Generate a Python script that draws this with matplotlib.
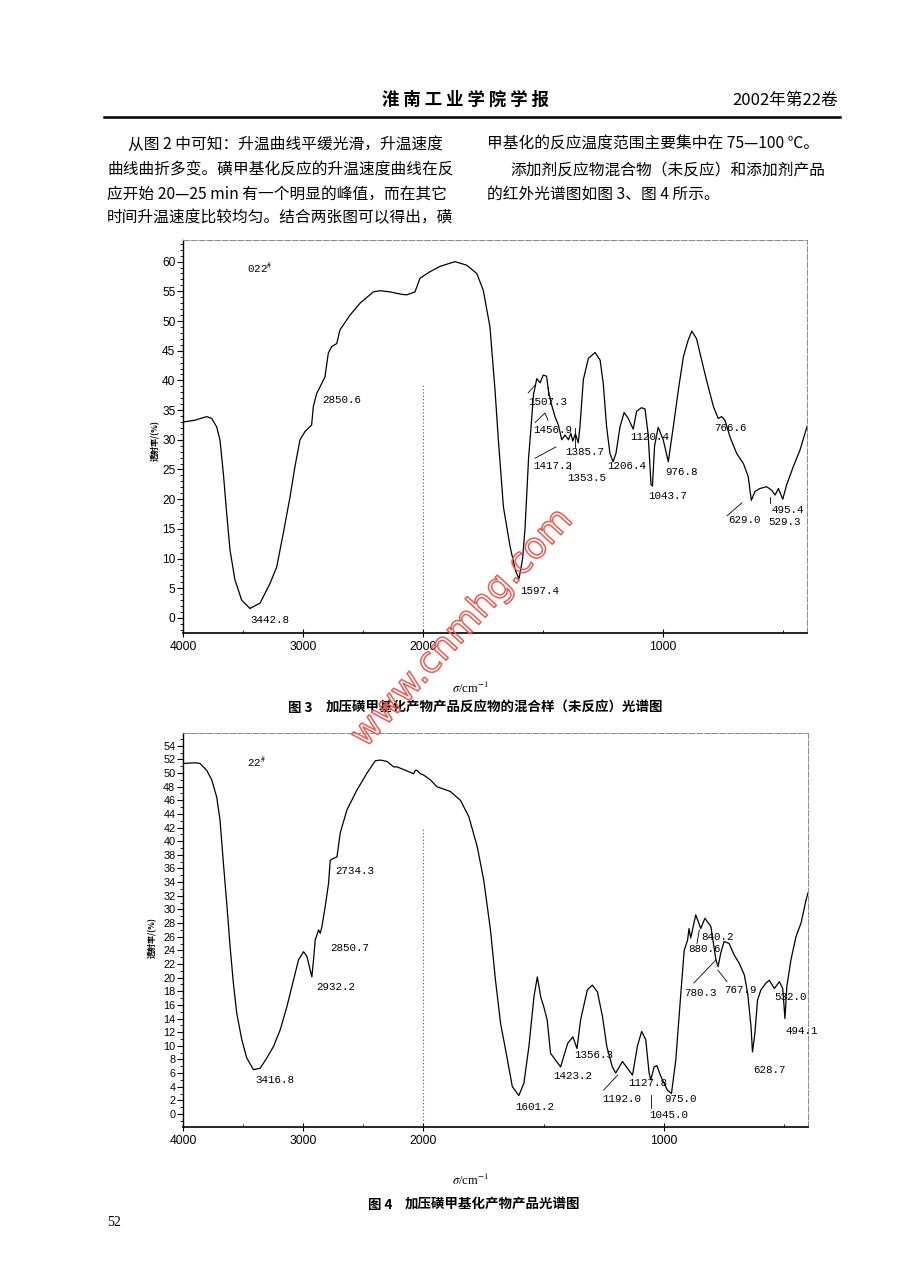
import numpy as np
import matplotlib
matplotlib.use('Agg')
import matplotlib.pyplot as plt
from matplotlib import patheffects
from matplotlib.lines import Line2D
from matplotlib.ticker import MultipleLocator, FixedLocator

plt.rcParams['font.family'] = ['Noto Sans CJK SC', 'DejaVu Sans']
plt.rcParams['mathtext.fontset'] = 'stix'

W, H = 904, 1262

# ---- fig 3 : mixture (unreacted), wavenumber / transmittance (%)
wn3 = [4000, 3900, 3803, 3761, 3720, 3692, 3664, 3636, 3608, 3567, 3511, 3442,
       3358, 3275, 3219, 3164, 3108, 3067, 3025, 2983, 2928, 2914, 2886, 2858,
       2817, 2789, 2761, 2719, 2692, 2608, 2525, 2414, 2358, 2275, 2180, 2136,
       2067, 2025, 1971, 1929, 1867, 1818, 1776, 1749, 1721, 1700, 1686, 1665,
       1637, 1615, 1600, 1585, 1575, 1560, 1550, 1540, 1526, 1512, 1499, 1485,
       1478, 1465, 1450, 1436, 1422, 1408, 1394, 1384, 1376, 1365, 1353, 1346,
       1332, 1311, 1283, 1262, 1249, 1235, 1221, 1208, 1196, 1179, 1162, 1145,
       1124, 1110, 1090, 1075, 1062, 1050, 1044, 1035, 1020, 999, 978, 957,
       936, 915, 895, 880, 860, 846, 819, 790, 770, 756, 742, 721, 693, 665,
       645, 632, 617, 596, 568, 547, 533, 519, 501, 485, 457, 429, 400]
t3 = [33.0, 33.3, 33.9, 33.6, 32.2, 30.0, 24.4, 17.6, 11.4, 6.4, 3.0, 1.6,
      2.5, 5.8, 8.6, 14.3, 20.4, 25.5, 30.0, 31.4, 32.5, 35.6, 37.8, 38.9,
      40.6, 44.6, 45.7, 46.2, 48.5, 51.0, 53.0, 54.9, 55.1, 54.9, 54.5, 54.4,
      54.9, 57.2, 58.3, 59.2, 60.0, 59.4, 58.0, 55.2, 49.0, 38.4, 30.0, 18.7,
      12.0, 8.0, 6.6, 10.0, 15.0, 27.0, 32.0, 37.5, 40.3, 39.6, 40.9, 40.7,
      38.4, 36.0, 33.9, 32.5, 30.0, 30.8, 30.0, 31.1, 29.8, 31.0, 29.5, 32.2,
      40.1, 43.7, 44.7, 43.4, 39.5, 32.2, 27.7, 26.3, 27.7, 32.2, 34.6, 33.6,
      31.8, 34.8, 35.4, 35.2, 31.0, 22.5, 22.2, 29.0, 32.1, 30.0, 26.3, 32.2,
      38.4, 44.0, 46.8, 48.3, 47.0, 44.6, 40.1, 35.6, 33.6, 33.9, 33.3, 30.5,
      27.7, 26.0, 23.8, 19.8, 21.3, 21.8, 22.1, 21.5, 20.7, 21.8, 20.0, 22.4,
      25.5, 28.3, 32.2]

# ---- fig 4 : product
wn4 = [4000, 3900, 3858, 3803, 3761, 3720, 3692, 3664, 3636, 3608, 3581, 3553,
       3511, 3469, 3414, 3358, 3303, 3247, 3192, 3136, 3081, 3039, 2997, 2969,
       2942, 2928, 2914, 2900, 2872, 2858, 2844, 2817, 2789, 2775, 2747, 2719,
       2692, 2636, 2553, 2469, 2400, 2358, 2303, 2247, 2219, 2136, 2094, 2081,
       2067, 2053, 2025, 1999, 1971, 1944, 1888, 1846, 1811, 1776, 1749, 1721,
       1700, 1679, 1658, 1630, 1603, 1582, 1561, 1540, 1526, 1512, 1499, 1485,
       1471, 1450, 1429, 1408, 1399, 1387, 1378, 1361, 1346, 1318, 1297, 1276,
       1255, 1237, 1214, 1200, 1172, 1151, 1130, 1110, 1092, 1075, 1061, 1054,
       1040, 1029, 1012, 985, 968, 950, 929, 915, 901, 895, 888, 867, 846, 829,
       804, 783, 774, 763, 749, 728, 707, 686, 665, 651, 637, 631, 621, 610,
       596, 575, 561, 540, 519, 505, 496, 488, 471, 450, 429, 408, 400]
t4 = [51.4, 51.5, 51.4, 50.4, 49.0, 46.5, 43.1, 36.8, 30.9, 24.5, 19.2, 14.8,
      10.9, 8.2, 6.5, 6.7, 8.2, 9.9, 12.3, 15.7, 19.6, 22.6, 23.8, 23.1,
      21.1, 20.1, 22.6, 25.5, 27.0, 26.5, 27.5, 30.4, 33.8, 37.2, 37.5, 37.7,
      41.2, 44.6, 47.5, 50.0, 51.8, 51.9, 51.7, 50.9, 50.9, 50.3, 50.0, 49.9,
      50.4, 50.4, 49.9, 49.7, 49.0, 48.0, 47.3, 46.0, 43.6, 39.2, 34.3, 27.0,
      19.6, 13.3, 9.4, 4.0, 2.7, 4.5, 9.9, 17.2, 20.1, 17.2, 15.7, 13.8,
      8.9, 7.9, 6.9, 9.4, 10.4, 10.9, 11.3, 9.6, 13.8, 18.2, 18.9, 17.9,
      14.3, 9.9, 6.9, 6.0, 7.7, 6.7, 5.7, 9.9, 12.1, 10.9, 6.0, 5.0,
      6.9, 7.1, 5.5, 3.5, 3.0, 7.9, 17.7, 24.0, 25.5, 27.2, 25.8, 29.2, 27.2, 28.7,
      27.5, 22.6, 21.6, 23.6, 25.3, 25.0, 23.3, 22.1, 20.4, 17.7, 12.8, 9.1, 11.8, 16.7,
      18.2, 19.2, 19.6, 18.4, 19.4, 18.4, 14.0, 18.7, 22.6, 26.0, 28.0, 31.4, 32.4]

# peak labels: text, wavenumber of left edge, transmittance of centre
peaks3 = ['3442.8', '2850.6', '1597.4', '1507.3', '1456.9', '1385.7', '1417.2',
          '1353.5', '1206.4', '1120.4', '976.8', '1043.7', '766.6', '495.4',
          '629.0', '529.3']
pk3_x = [3442, 2842, 1596, 1563, 1542, 1408, 1542, 1400, 1233, 1137, 992, 1062,
         787, 546, 729, 563]
pk3_y = [-0.3, 36.7, 4.5, 36.4, 31.6, 27.9, 25.6, 23.6, 25.6, 30.5, 24.6, 20.5,
         32.0, 18.2, 16.5, 16.2]

peaks4 = ['3416.8', '2932.2', '2850.7', '2734.3', '1601.2', '1423.2', '1356.3',
          '1192.0', '1127.8', '975.0', '1045.0', '840.2', '880.6', '780.3',
          '767.9', '532.0', '494.1', '628.7']
pk4_x = [3400, 2892, 2775, 2733, 1617, 1458, 1371, 1254, 1146, 1000, 1062, 846,
         900, 917, 750, 542, 492, 629]
pk4_y = [5.0, 18.6, 24.3, 35.6, 1.0, 5.6, 8.7, 2.2, 4.5, 2.2, -0.1, 26.0,
         24.2, 17.7, 18.2, 17.2, 12.2, 6.5]

# leader lines (wavenumber list, transmittance list)
lead3 = [([1562, 1533], [37.9, 39.2]), ([1478, 1478], [38.9, 37.5]),
         ([1533, 1492, 1479], [32.9, 34.5, 33.3]), ([1533, 1446], [26.9, 28.8]),
         ([1388, 1388], [26.1, 25.0]), ([1365, 1365], [32.0, 28.8]),
         ([733, 671], [17.2, 19.4]), ([556, 556], [20.4, 19.3])]
lead4 = [([1250, 1192], [3.5, 5.7]), ([875, 783], [19.2, 22.6]),
         ([737, 775], [19.4, 21.1]), ([1054, 1054], [2.8, 0.9]),
         ([862, 852], [25.0, 27.0])]


def fwd(x):
    x = np.asarray(x, dtype=float)
    return np.where(x > 2000, 2000 + (x - 2000) / 2.0, x)


def inv(u):
    u = np.asarray(u, dtype=float)
    return np.where(u > 2000, 2000 + (u - 2000) * 2.0, u)


def box(l, t, r, b):
    return [l / W, 1 - b / H, (r - l) / W, (b - t) / H]


def ftext(x, y, s, **kw):
    fig.text(x / W, 1 - y / H, s, **kw)


fig = plt.figure(figsize=(W / 100, H / 100), dpi=100)
fig.patch.set_facecolor('white')


def setup(ax, ylim, major, minor, vtop, ysize):
    ax.set_xscale('function', functions=(fwd, inv))
    ax.set_xlim(4000, 400)
    ax.set_ylim(*ylim)
    ax.xaxis.set_major_locator(FixedLocator([4000, 3000, 2000, 1000]))
    ax.xaxis.set_minor_locator(FixedLocator([3500, 2500, 1500, 500]))
    ax.yaxis.set_major_locator(MultipleLocator(major))
    ax.yaxis.set_minor_locator(MultipleLocator(minor))
    ax.tick_params(axis='y', which='major', direction='out', length=4, width=0.8,
                   pad=1.5, labelsize=ysize)
    ax.tick_params(axis='y', which='minor', direction='out', length=2, width=0.6)
    ax.tick_params(axis='x', which='major', direction='inout', length=6, width=0.8,
                   pad=3, labelsize=8.8)
    ax.tick_params(axis='x', which='minor', direction='in', length=2, width=0.6)
    for lab in ax.get_xticklabels() + ax.get_yticklabels():
        lab.set_fontfamily('Liberation Sans')
    ax.spines['left'].set_linewidth(1.0)
    ax.spines['bottom'].set_linewidth(1.2)
    for s in ('top', 'right'):
        ax.spines[s].set_linewidth(0.7)
        ax.spines[s].set_color('#888888')
        ax.spines[s].set_linestyle((0, (6, 2)))
    ax.axvline(2000, ymin=0, ymax=vtop, color='#555555', lw=0.8, ls=(0, (1, 2)))


ax3 = fig.add_axes(box(183, 240, 807, 633))
setup(ax3, (-2.53, 63.64), 5, 1, 0.63, 8.6)
ax3.plot(wn3, t3, color='black', lw=0.9)
for s, x, y in zip(peaks3, pk3_x, pk3_y):
    ax3.text(x, y, s, family='Liberation Mono', fontsize=7.8, ha='left', va='center')
for xs, ys in lead3:
    ax3.plot(xs, ys, color='black', lw=0.6)
ax3.text(3467, 58.9, '022$^{\\#}$', family='Liberation Mono', fontsize=7.8,
         ha='left', va='center')

ax4 = fig.add_axes(box(183, 733, 808, 1127))
setup(ax4, (-1.91, 55.87), 2, 1, 0.76, 7.8)
ax4.plot(wn4, t4, color='black', lw=0.9)
for s, x, y in zip(peaks4, pk4_x, pk4_y):
    ax4.text(x, y, s, family='Liberation Mono', fontsize=7.8, ha='left', va='center')
for xs, ys in lead4:
    ax4.plot(xs, ys, color='black', lw=0.6)
ax4.text(3467, 51.6, '22$^{\\#}$', family='Liberation Mono', fontsize=7.8,
         ha='left', va='center')

# y labels
ftext(155, 441, '透射率/(%)', rotation=90, fontsize=5.8, weight='bold',
      ha='center', va='center')
ftext(152, 938, '透射率/(%)', rotation=90, fontsize=5.8, weight='bold',
      ha='center', va='center')

# page header
ftext(465, 100, '淮 南 工 业 学 院 学 报', fontsize=12.5, weight='bold',
      ha='center', va='center')
ftext(838, 100, '2002年第22卷', fontsize=12, ha='right', va='center')
fig.add_artist(Line2D([104 / W, 840 / W], [1 - 117 / H, 1 - 117 / H],
                      color='black', lw=1.8))

body = [(128, 144, '从图 2 中可知：升温曲线平缓光滑，升温速度'),
        (107, 170, '曲线曲折多变。磺甲基化反应的升温速度曲线在反'),
        (107, 194, '应开始 20—25 min 有一个明显的峰值，而在其它'),
        (107, 218, '时间升温速度比较均匀。结合两张图可以得出，磺'),
        (487, 144, '甲基化的反应温度范围主要集中在 75—100 ℃。'),
        (510, 170, '添加剂反应物混合物（未反应）和添加剂产品'),
        (487, 194, '的红外光谱图如图 3、图 4 所示。')]
for x, y, s in body:
    ftext(x, y, s, fontsize=11.3, ha='left', va='center')

# captions
ftext(470, 688, r'$\sigma$/cm$^{-1}$', fontsize=9, family='Liberation Serif',
      ha='center', va='center')
ftext(288, 708, '图 3', fontsize=9.7, weight='bold', ha='left', va='center')
ftext(326, 708, '加压磺甲基化产物产品反应物的混合样（未反应）光谱图', fontsize=9.7,
      weight='bold', ha='left', va='center')
ftext(470, 1180, r'$\sigma$/cm$^{-1}$', fontsize=9, family='Liberation Serif',
      ha='center', va='center')
ftext(368, 1205, '图 4', fontsize=9.7, weight='bold', ha='left', va='center')
ftext(405, 1205, '加压磺甲基化产物产品光谱图', fontsize=9.7, weight='bold',
      ha='left', va='center')
ftext(107, 1222, '52', fontsize=10, family='Liberation Serif', ha='left', va='center')

# watermark
ftext(462, 628, 'www.cnmhg.com', fontsize=26, rotation=47.5, ha='center',
      va='center', family='DejaVu Sans', color=(1, 1, 1, 0),
      path_effects=[patheffects.Stroke(linewidth=1.1, foreground='#ec5a50')])

fig.savefig('out.png', dpi=100)
